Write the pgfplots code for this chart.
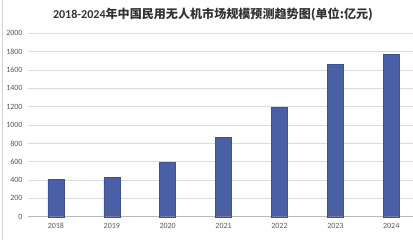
\documentclass[border=0pt]{standalone}
\usepackage{fontspec}
\usepackage{graphicx}
\setmainfont{Carlito}
\newfontfamily\cjk{Noto Sans CJK SC}
\usepackage{pgfplots}
\pgfplotsset{compat=1.18}
\definecolor{barfill}{HTML}{4A5FA6}
\definecolor{bardraw}{HTML}{3E5090}
\definecolor{ticktext}{HTML}{595959}
\definecolor{titletext}{HTML}{333333}
\begin{document}
\begin{tikzpicture}
\useasboundingbox (0,0) rectangle (413bp,240bp);
\fill[white] (0,0) rectangle (413bp,240bp);
\draw[gray!35, line width=0.8bp] (2.7bp,0) -- (2.7bp,240bp);
\node[anchor=base, text=titletext, inner sep=0pt] at (213bp,221bp)
  {\resizebox{320bp}{!}{\fontsize{12.3}{14}\selectfont\bfseries 2018-2024{\cjk 年中国民用无人机市场规模预测趋势图(单位:亿元)}}};
\begin{axis}[
  at={(28bp,23.3bp)}, anchor=south west,
  scale only axis, width=385bp, height=183.4bp,
  xmin=-0.5, xmax=6.39, ymin=0, ymax=2000,
  ytick={0,200,...,2000},
  xtick=data,
  xticklabels={2018,2019,2020,2021,2022,2023,2024},
  ymajorgrids,
  grid style={draw=gray!28, line width=0.6bp},
  axis line style={draw=none},
  major tick length=0pt,
  /pgf/number format/assume math mode=true,
  /pgf/number format/1000 sep={},
  yticklabel style={font=\fontsize{8}{9}\selectfont, text=ticktext, inner sep=0pt, xshift=-5.3bp},
  xticklabel style={font=\fontsize{8}{9}\selectfont, text=ticktext, inner sep=0pt, yshift=-6bp},
  clip=false,
]
\draw[gray!55, line width=0.7bp] (axis cs:-0.5,0) -- (axis cs:6.39,0);
\addplot[ybar, bar width=16bp, fill=barfill, draw=bardraw, line width=0.4bp]
  coordinates {(0,405) (1,427) (2,596) (3,866) (4,1196) (5,1658) (6,1770)};
\end{axis}
\end{tikzpicture}
\end{document}
